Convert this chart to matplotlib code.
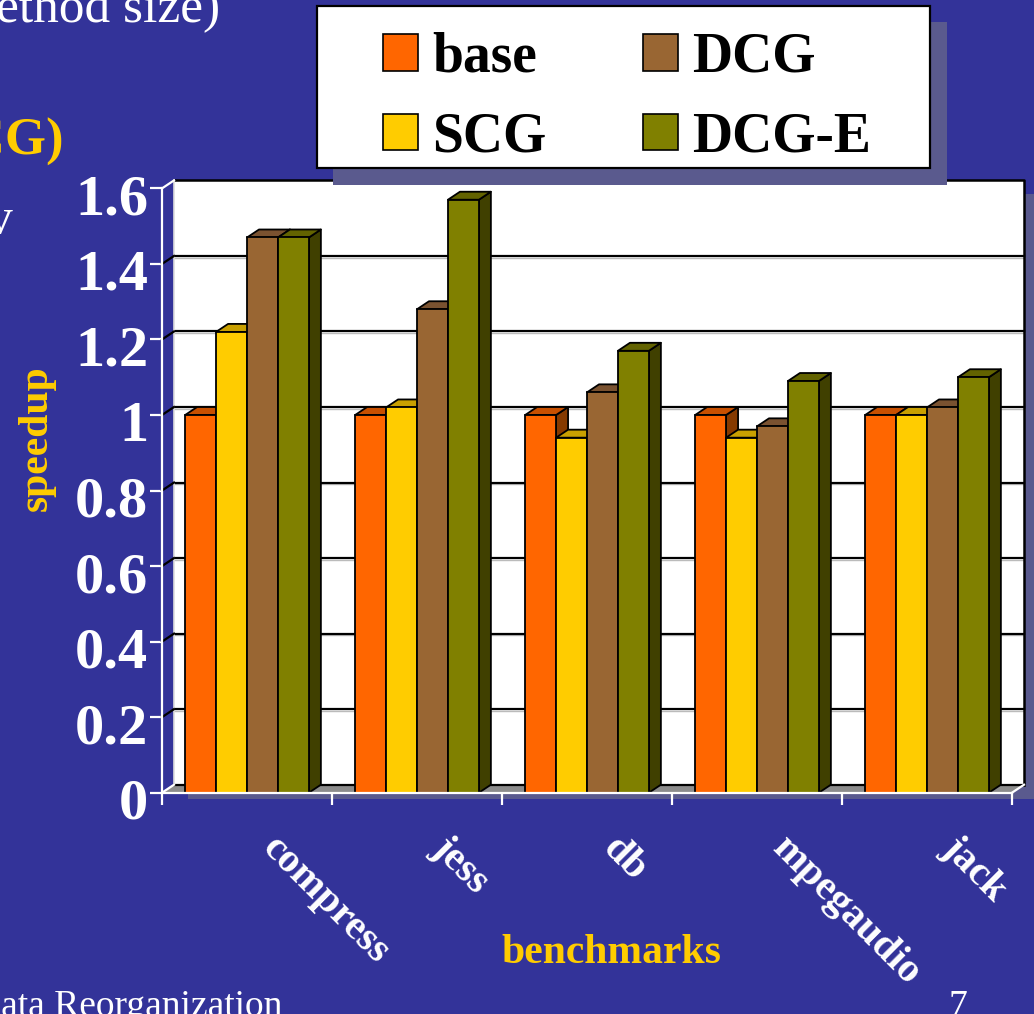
import numpy as np
import matplotlib
matplotlib.use('Agg')
import matplotlib.pyplot as plt
from matplotlib.patches import Rectangle, Polygon, Patch
from matplotlib.collections import PolyCollection
from matplotlib.transforms import offset_copy
from matplotlib.font_manager import FontProperties

# ---- data -------------------------------------------------------------
benchmarks = ['compress', 'jess', 'db', 'mpegaudio', 'jack']
series_names = ['base', 'SCG', 'DCG', 'DCG-E']
base = [1.00, 1.00, 1.00, 1.00, 1.00]
scg = [1.22, 1.02, 0.94, 0.94, 1.00]
dcg = [1.47, 1.28, 1.06, 0.97, 1.02]
dcg_e = [1.47, 1.57, 1.17, 1.09, 1.10]
y_ticks = [0.0, 0.2, 0.4, 0.6, 0.8, 1.0, 1.2, 1.4, 1.6]
y_tick_labels = ['0', '0.2', '0.4', '0.6', '0.8', '1', '1.2', '1.4', '1.6']

# ---- style ------------------------------------------------------------
front_colors = ['#FF6600', '#FFCC00', '#996633', '#808000']
top_colors = ['#C85000', '#C9A000', '#7A5230', '#636300']
side_colors = ['#863A00', '#9E7E00', '#5C3D1F', '#404000']

W, H = 1034, 1014
SLIDE = '#333399'
SHADE = '#5A5A8E'
GOLD = '#FFCC00'
SERIF = 'Liberation Serif'
plt.rcParams['font.family'] = [SERIF, 'DejaVu Serif']

fig = plt.figure(figsize=(W / 100, H / 100), dpi=100, facecolor=SLIDE)


def frac_rect(x0, y0, x1, y1):
    """Pixel box (origin top-left) -> figure-fraction rectangle."""
    return (x0 / W, 1 - y1 / H, (x1 - x0) / W, (y1 - y0) / H)


ax = fig.add_axes(frac_rect(162, 188.4, 1012, 792.7))
ax.set_xlim(-0.5, len(benchmarks) - 0.5)
ax.set_ylim(y_ticks[0], y_ticks[-1])
ax.patch.set_visible(False)
x_lo, x_hi = ax.get_xlim()
y_top = y_ticks[-1]

# depth of the pseudo-3D box (pixels right / up)
DX, DY = 12, 8
ppx = ax.bbox.width / (x_hi - x_lo)
ppy = ax.bbox.height / (y_top - y_ticks[0])
ddx, ddy = DX / ppx, DY / ppy


def shifted(dx, dy, base_tr=None):
    return offset_copy(base_tr if base_tr is not None else ax.transAxes,
                       fig=fig, x=dx, y=dy, units='dots')


# drop shadow of the chart block and the back wall
ax.add_patch(Rectangle((0, 0), 1, 1, transform=shifted(DX + 14, DY - 14),
                       fc=SHADE, ec='none', zorder=0, clip_on=False))
ax.add_patch(Rectangle((0, 0), 1, 1, transform=shifted(DX, DY),
                       fc='white', ec='none', zorder=1, clip_on=False))

wall_tr = shifted(DX, DY, ax.transData)
for t in y_ticks[1:-1]:
    ax.plot([x_lo, x_hi], [t, t], transform=shifted(DX, DY - 1.6, ax.transData),
            color='#BBBBBB', lw=1.0, zorder=2, clip_on=False)
    ax.plot([x_lo, x_hi], [t, t], transform=wall_tr,
            color='black', lw=1.6, zorder=2.1, clip_on=False)
ax.plot([x_lo, x_hi, x_hi], [y_top, y_top, 0], transform=wall_tr,
        color='black', lw=1.8, zorder=2.2, clip_on=False)
ax.plot([x_lo, x_lo], [0, y_top], transform=wall_tr,
        color='#DDDDDD', lw=1.2, zorder=2.2, clip_on=False)

# floor
ax.add_patch(Polygon([(x_lo, 0), (x_hi, 0), (x_hi + ddx, ddy), (x_lo + ddx, ddy)],
                     closed=True, fc='#8C8C8C', ec='none', zorder=3, clip_on=False))
ax.plot([x_lo, x_hi], [0, 0], transform=wall_tr, color='black', lw=1.6,
        zorder=3.1, clip_on=False)

# side-wall grid segments and box edges
for t in y_ticks:
    edge = 'white' if t in (y_ticks[0], y_top) else 'black'
    ax.plot([x_lo, x_lo + ddx], [t, t + ddy], color=edge, lw=1.6,
            zorder=3.2, clip_on=False)
ax.plot([x_hi, x_hi + ddx], [0, ddy], color='white', lw=1.6, zorder=3.2, clip_on=False)

# 3-D columns: side, top, then front face for each series in turn
values = [base, scg, dcg, dcg_e]
BW = 0.182
x_idx = np.arange(len(benchmarks))
for s, vals in enumerate(values):
    xs = x_idx + (s - 1.5) * BW
    tops, sides = [], []
    for x, v in zip(xs, vals):
        xl, xr = x - BW / 2, x + BW / 2
        tops.append([(xl, v), (xr, v), (xr + ddx, v + ddy), (xl + ddx, v + ddy)])
        sides.append([(xr, 0), (xr, v), (xr + ddx, v + ddy), (xr + ddx, ddy)])
    ax.add_collection(PolyCollection(sides, facecolors=side_colors[s], edgecolors='black',
                                     linewidths=1.3, zorder=10 + 2 * s, clip_on=False))
    ax.add_collection(PolyCollection(tops, facecolors=top_colors[s], edgecolors='black',
                                     linewidths=1.3, zorder=10 + 2 * s, clip_on=False))
    ax.bar(xs, vals, BW, color=front_colors[s], edgecolor='black', linewidth=1.3,
           zorder=11 + 2 * s, clip_on=False)

# front axes
for side in ('top', 'right'):
    ax.spines[side].set_visible(False)
for side in ('left', 'bottom'):
    ax.spines[side].set_color('white')
    ax.spines[side].set_linewidth(1.6)
    ax.spines[side].set_zorder(30)
ax.set_yticks(y_ticks)
ax.set_xticks(np.arange(x_lo, x_hi + 0.01, 1.0))
ax.tick_params(axis='both', direction='out', length=12 * 0.72, width=1.6,
               color='white', labelleft=False, labelbottom=False)

lab_tr = offset_copy(ax.transData, fig=fig, x=-14, y=-26, units='dots')
for t, lab in zip(y_ticks, y_tick_labels):
    ax.text(x_lo, t, lab, transform=lab_tr, ha='right', va='baseline',
            fontsize=42, fontweight='bold', color='white', clip_on=False)

cat_tr = offset_copy(ax.transData, fig=fig, x=14, y=-57, units='dots')
for i, name in enumerate(benchmarks):
    ax.text(i, 0, name, transform=cat_tr, rotation=-45, rotation_mode='anchor',
            ha='left', va='baseline', fontsize=29.5, fontweight='bold',
            color='white', clip_on=False)

fig.text(611 / W, 1 - 963 / H, 'benchmarks', ha='center', va='baseline',
         fontsize=30, fontweight='bold', color=GOLD)
fig.text(56 / W, 1 - 438 / H, 'speedup', rotation=90, ha='right', va='center',
         fontsize=30, fontweight='bold', color=GOLD)

# legend with its boxed frame and shadow
handles = [Patch(facecolor=c, edgecolor='black', linewidth=1.2) for c in front_colors]
leg = fig.legend(handles, series_names, ncol=2, loc='upper left',
                 bbox_to_anchor=(383 / W, 1 - 32 / H), frameon=False,
                 borderpad=0, borderaxespad=0,
                 prop=FontProperties(family=SERIF, weight='bold', size=40),
                 handlelength=0.63, handleheight=0.63, handletextpad=0.25,
                 columnspacing=1.75, labelspacing=0.5)
fig.add_artist(Rectangle(frac_rect(333, 22, 947, 185)[:2], (947 - 333) / W, (185 - 22) / H,
                         transform=fig.transFigure, fc=SHADE, ec='none', zorder=1))
fig.add_artist(Rectangle(frac_rect(317, 6, 930, 168)[:2], (930 - 317) / W, (168 - 6) / H,
                         transform=fig.transFigure, fc='white', ec='black', lw=1.6, zorder=1.1))

# surrounding slide text
fig.text(220 / W, 1 - 22 / H, '(method size)', ha='right', va='baseline',
         fontsize=37, color='white')
fig.text(64 / W, 1 - 155 / H, '(DCG)', ha='right', va='baseline',
         fontsize=38, fontweight='bold', color=GOLD)
fig.text(13 / W, 1 - 233 / H, 'v', ha='right', va='baseline',
         fontsize=37, color='white')
fig.text(282 / W, 1 - 1016 / H, 'Data Reorganization', ha='right', va='baseline',
         fontsize=27, color='white')
fig.text(967 / W, 1 - 1016 / H, '7', ha='right', va='baseline',
         fontsize=27, color='white')

fig.savefig('out.png', dpi=100, facecolor=SLIDE)
